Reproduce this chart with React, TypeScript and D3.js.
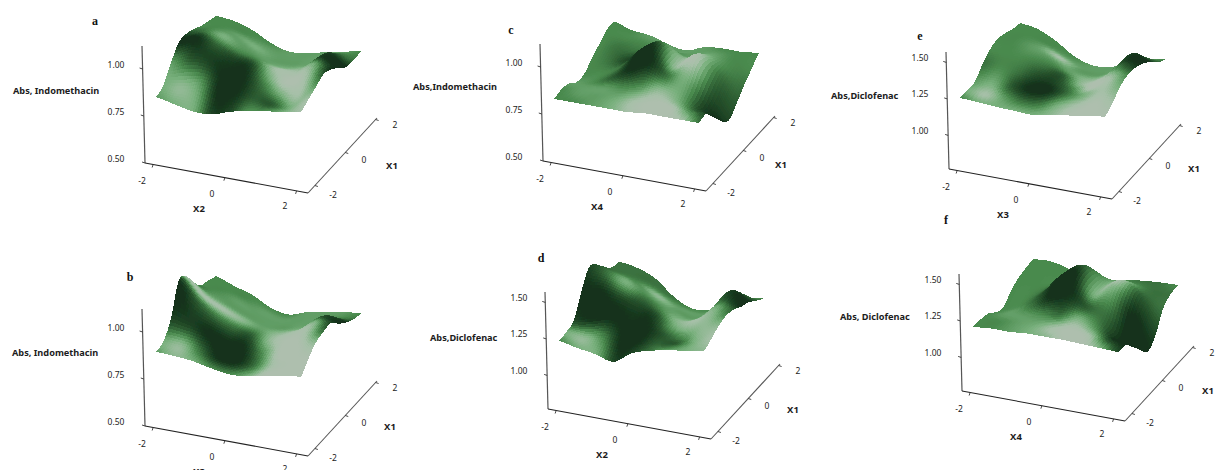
import React from 'react';
import * as d3 from 'd3';

// axis ticks
const factorTicks = [-2, 0, 2];
const indoTicks = [0.5, 0.75, 1.0];
const dicloTicks = [1.0, 1.25, 1.5];

// Surface readings: rows run from the back edge (X1 = 2) to the front edge (X1 = -2),
// columns from the left edge (factor = -2) to the right edge (factor = 2).
const heightsA = [
    [.91, .90, .87, .82, .79, .80, .82, .84, .86],
    [.93, .93, .90, .85, .81, .81, .83, .88, .86],
    [.95, .96, .94, .89, .84, .83, .85, .93, .87],
    [.98, 1.0, .99, .93, .88, .86, .88, .95, .91],
    [1.0, 1.03, 1.02, .96, .93, .90, .90, .96, .95],
    [1.0, 1.04, 1.02, .97, .95, .91, .89, .94, .97],
    [.94, .98, .98, .94, .93, .91, .88, .89, .95],
    [.87, .88, .90, .90, .90, .89, .87, .87, .93],
    [.85, .83, .81, .81, .84, .865, .88, .89, .91],
];
const shadesA = [
    [4, 4, 4, 4, 5, 5, 5, 5, 4],
    [4, 4, 4, 5, 5, 5, 5, 3, 3],
    [4, 4, 5, 6, 5, 5, 5, 1, 0],
    [3, 4, 5, 5, 5, 6, 6, 1, 0],
    [1, 3, 6, 4, 4, 8, 8, 6, 0],
    [0, 0, 2, 1, 1, 6, 9, 8, 2],
    [5, 2, 1, 0, 0, 3, 6, 8, 5],
    [6, 7, 5, 0, 0, 2, 2, 6, 8],
    [5, 6, 6, 1, 1, 4, 4, 6, 8],
];

const heightsB = [
    [.925, .89, .86, .81, .79, .82, .84, .855, .865],
    [.95, .93, .89, .84, .81, .83, .85, .87, .88],
    [.97, .96, .92, .87, .84, .85, .86, .93, .91],
    [1.03, .98, .94, .90, .87, .87, .89, .97, .95],
    [1.11, 1.02, .97, .93, .90, .89, .92, .98, 1.0],
    [1.13, 1.04, .98, .94, .91, .90, .92, .97, 1.0],
    [.98, .96, .94, .91, .89, .88, .90, .94, .99],
    [.905, .90, .89, .87, .86, .86, .88, .91, .95],
    [.894, .89, .88, .86, .845, .85, .87, .885, .90],
];
const shadesB = [
    [4, 4, 4, 4, 4, 5, 5, 5, 4],
    [4, 4, 4, 5, 5, 5, 5, 4, 3],
    [4, 4, 5, 5, 5, 5, 5, 2, 0],
    [3, 5, 5, 5, 5, 5, 6, 2, 0],
    [8, 8, 8, 7, 5, 7, 8, 7, 1],
    [0, 2, 3, 3, 2, 7, 9, 8, 3],
    [1, 1, 0, 0, 0, 4, 9, 9, 7],
    [6, 7, 3, 0, 0, 3, 8, 9, 9],
    [5, 7, 6, 4, 4, 6, 9, 9, 9],
];

const heightsC = [
    [.87, .84, .83, .80, .785, .82, .83, .83, .84],
    [.87, .85, .84, .82, .82, .84, .85, .84, .80],
    [.84, .84, .84, .86, .88, .86, .89, .84, .76],
    [.81, .82, .84, .92, .97, .90, .94, .84, .71],
    [.775, .80, .85, .95, 1.0, .90, .96, .80, .67],
    [.78, .80, .84, .90, .95, .90, .90, .77, .71],
    [.82, .82, .83, .85, .88, .87, .84, .80, .79],
    [.835, .83, .83, .83, .84, .85, .84, .83, .845],
    [.83, .83, .83, .83, .83, .84, .84, .84, .84],
];
const shadesC = [
    [4, 4, 5, 5, 5, 5, 4, 4, 4],
    [4, 4, 4, 4, 5, 5, 5, 4, 4],
    [4, 3, 3, 3, 4, 5, 6, 4, 3],
    [4, 3, 1, 1, 4, 7, 8, 3, 2],
    [4, 4, 3, 0, 1, 7, 9, 2, 1],
    [5, 4, 2, 0, 0, 3, 6, 1, 0],
    [5, 5, 5, 4, 4, 7, 6, 2, 0],
    [4, 5, 5, 6, 8, 9, 9, 5, 1],
    [4, 4, 5, 6, 8, 9, 9, 8, 3],
];

const heightsD = [
    [1.30, 1.28, 1.23, 1.13, 1.07, 1.08, 1.15, 1.20, 1.23],
    [1.32, 1.31, 1.27, 1.19, 1.12, 1.11, 1.20, 1.30, 1.27],
    [1.37, 1.37, 1.32, 1.25, 1.18, 1.14, 1.24, 1.38, 1.32],
    [1.46, 1.44, 1.40, 1.31, 1.24, 1.19, 1.25, 1.38, 1.35],
    [1.50, 1.48, 1.44, 1.36, 1.30, 1.24, 1.28, 1.38, 1.39],
    [1.40, 1.42, 1.40, 1.36, 1.32, 1.26, 1.28, 1.36, 1.41],
    [1.26, 1.29, 1.32, 1.30, 1.30, 1.27, 1.27, 1.33, 1.40],
    [1.24, 1.22, 1.24, 1.24, 1.27, 1.28, 1.29, 1.32, 1.37],
    [1.236, 1.21, 1.19, 1.16, 1.24, 1.28, 1.305, 1.325, 1.345],
];
const shadesD = [
    [3, 3, 3, 3, 4, 4, 4, 4, 4],
    [3, 3, 3, 4, 5, 5, 5, 3, 2],
    [3, 3, 4, 7, 5, 5, 6, 1, 0],
    [2, 3, 4, 5, 5, 6, 6, 2, 0],
    [1, 3, 6, 3, 4, 7, 8, 6, 2],
    [0, 0, 1, 1, 1, 5, 7, 7, 4],
    [1, 0, 0, 0, 0, 2, 4, 7, 7],
    [6, 7, 4, 0, 0, 2, 2, 6, 8],
    [4, 6, 6, 1, 1, 3, 5, 6, 7],
];

const heightsE = [
    [1.29, 1.27, 1.21, 1.13, 1.09, 1.10, 1.16, 1.20, 1.22],
    [1.31, 1.30, 1.25, 1.18, 1.13, 1.13, 1.18, 1.28, 1.26],
    [1.34, 1.34, 1.30, 1.24, 1.18, 1.16, 1.22, 1.36, 1.32],
    [1.36, 1.37, 1.34, 1.29, 1.22, 1.19, 1.25, 1.37, 1.37],
    [1.35, 1.35, 1.34, 1.30, 1.26, 1.22, 1.27, 1.38, 1.40],
    [1.31, 1.31, 1.30, 1.28, 1.27, 1.25, 1.28, 1.37, 1.41],
    [1.25, 1.25, 1.26, 1.26, 1.27, 1.27, 1.29, 1.34, 1.39],
    [1.25, 1.24, 1.24, 1.24, 1.25, 1.26, 1.28, 1.31, 1.34],
    [1.256, 1.25, 1.24, 1.235, 1.23, 1.25, 1.27, 1.29, 1.305],
];
const shadesE = [
    [4, 4, 4, 4, 5, 5, 5, 5, 4],
    [4, 4, 4, 5, 5, 5, 5, 3, 2],
    [4, 4, 5, 8, 5, 5, 5, 1, 0],
    [4, 4, 5, 5, 5, 7, 6, 1, 0],
    [4, 4, 4, 3, 2, 7, 9, 4, 1],
    [3, 4, 3, 1, 1, 4, 9, 8, 4],
    [5, 6, 2, 0, 0, 3, 6, 8, 6],
    [6, 8, 5, 3, 3, 6, 8, 9, 8],
    [4, 6, 6, 6, 6, 7, 9, 9, 9],
];

const heightsF = [
    [1.195, 1.20, 1.17, 1.12, 1.10, 1.16, 1.18, 1.19, 1.195],
    [1.19, 1.19, 1.18, 1.18, 1.20, 1.22, 1.22, 1.20, 1.19],
    [1.18, 1.18, 1.20, 1.27, 1.34, 1.28, 1.30, 1.24, 1.15],
    [1.15, 1.16, 1.22, 1.35, 1.42, 1.30, 1.36, 1.28, 1.03],
    [1.10, 1.14, 1.23, 1.36, 1.42, 1.30, 1.36, 1.20, .98],
    [1.13, 1.16, 1.22, 1.30, 1.34, 1.28, 1.26, 1.10, 1.05],
    [1.18, 1.19, 1.21, 1.24, 1.26, 1.26, 1.22, 1.16, 1.16],
    [1.20, 1.21, 1.22, 1.22, 1.23, 1.24, 1.22, 1.21, 1.20],
    [1.21, 1.22, 1.22, 1.23, 1.23, 1.23, 1.225, 1.22, 1.215],
];
const shadesF = [
    [4, 4, 4, 4, 4, 4, 3, 3, 4],
    [4, 4, 4, 4, 4, 4, 4, 3, 3],
    [4, 4, 4, 3, 3, 5, 6, 3, 3],
    [4, 4, 3, 1, 2, 6, 8, 2, 1],
    [4, 4, 2, 0, 0, 6, 6, 0, 0],
    [4, 5, 3, 0, 0, 2, 3, 0, 0],
    [4, 5, 5, 4, 3, 6, 4, 0, 0],
    [4, 4, 5, 6, 8, 9, 8, 2, 0],
    [4, 4, 5, 6, 7, 9, 9, 6, 1],
];

// per-panel layout
const panels = [
    {letter: 'a', letterAt: [95, 21], title: 'Abs, Indomethacin', titleAt: [13, 90], origin: [145, 163], factor: 'X2', x1At: [392, 165], heights: heightsA, shades: shadesA, zTicks: indoTicks, zBase: 0.5, zPx: 188},
    {letter: 'b', letterAt: [130, 277], title: 'Abs, Indomethacin', titleAt: [12, 352], origin: [145, 426], factor: 'X3', x1At: [390, 426], heights: heightsB, shades: shadesB, zTicks: indoTicks, zBase: 0.5, zPx: 188},
    {letter: 'c', letterAt: [511, 30], title: 'Abs,Indomethacin', titleAt: [413, 86], origin: [543, 161], factor: 'X4', x1At: [781, 164], heights: heightsC, shades: shadesC, zTicks: indoTicks, zBase: 0.5, zPx: 188},
    {letter: 'd', letterAt: [541, 258], title: 'Abs,Diclofenac', titleAt: [430, 337], origin: [548, 409], factor: 'X2', x1At: [793, 409], heights: heightsD, shades: shadesD, zTicks: dicloTicks, zBase: 0.77, zPx: 146},
    {letter: 'e', letterAt: [920, 36], title: 'Abs,Diclofenac', titleAt: [831, 95], origin: [949, 169], factor: 'X3', x1At: [1194, 168], heights: heightsE, shades: shadesE, zTicks: dicloTicks, zBase: 0.77, zPx: 146},
    {letter: 'f', letterAt: [946, 220], title: 'Abs, Diclofenac', titleAt: [840, 316], origin: [962, 391], factor: 'X4', x1At: [1208, 390], heights: heightsF, shades: shadesF, zTicks: dicloTicks, zBase: 0.77, zPx: 146},
];

const MESH = 64;
const LABEL_FONT = '"Noto Sans", sans-serif';

// shade 0 is the darkest slope, shade 9 the washed out gray-green
const shadeColor = d3.scaleLinear<string>()
    .domain([0, 2, 4, 6, 8, 9])
    .range(['#12301a', '#2b5a30', '#4a8a4e', '#78b07c', '#a6c0a8', '#aebfae'])
    .clamp(true);

// surface projection, offsets from the panel origin
const surfX = d3.scaleLinear().domain([-2, 2]).range([11, 156]);
const surfXy = d3.scaleLinear().domain([-2, 2]).range([0, 26]);
const surfV = d3.scaleLinear().domain([-2, 2]).range([0, 60]);
const surfVy = d3.scaleLinear().domain([-2, 2]).range([0, -70]);

// axis positions, as a share of the drawn axis line
const factorAxis = d3.scaleLinear().domain([-2, 2]).range([0.05, 0.93]);
const x1Axis = d3.scaleLinear().domain([-2, 2]).range([0.1, 0.98]);
const FACTOR_END = [163, 30];
const X1_END = [69, -75];
const Z_TOP = [-3, -117];

// smooth curve through the values
function spline(vals: number[], p: number) {
    const n = vals.length - 1;
    const x = Math.min(Math.max(p, 0), 1) * n;
    const i = Math.min(Math.floor(x), n - 1);
    const f = x - i;
    const p0 = vals[Math.max(i - 1, 0)];
    const p1 = vals[i];
    const p2 = vals[i + 1];
    const p3 = vals[Math.min(i + 2, n)];
    return 0.5 * (2 * p1 + (p2 - p0) * f + (2 * p0 - 5 * p1 + 4 * p2 - p3) * f * f + (3 * p1 - p0 - 3 * p2 + p3) * f * f * f);
}

function sample(grid: number[][], s: number, t: number) {
    return spline(grid.map(row => spline(row, s)), 1 - t);
}

function drawPanel(svg: any, panel: any) {
    const [ox, oy] = panel.origin;
    const zScale = d3.scaleLinear().domain([panel.zBase, panel.zBase + 1]).range([0, panel.zPx]);
    const stepU = d3.scaleLinear().domain([0, 1]).range([-2, 2]);

    const project = (s: number, t: number) => {
        const u = stepU(s);
        const v = stepU(t);
        const z = sample(panel.heights, s, t);
        return [ox + surfX(u) + surfV(v), oy + surfXy(u) + surfVy(v) - zScale(z)];
    };

    // painter's order: back rows first, left to right
    const cells: {pts: number[][], shade: number}[] = [];
    const corners: number[][][] = d3.range(MESH + 1).map(j =>
        d3.range(MESH + 1).map(i => project(i / MESH, 1 - j / MESH)));
    for (let j = 0; j < MESH; j++) {
        for (let i = 0; i < MESH; i++) {
            cells.push({
                pts: [corners[j][i], corners[j][i + 1], corners[j + 1][i + 1], corners[j + 1][i]],
                shade: sample(panel.shades, (i + 0.5) / MESH, 1 - (j + 0.5) / MESH),
            });
        }
    }

    const line = d3.line();
    const surface = svg.append('g')
        .attr('filter', 'url(#soften)')
        .attr('shape-rendering', 'crispEdges');
    surface.selectAll('path')
        .data(cells)
        .join('path')
        .attr('d', (d: any) => line(d.pts) + 'Z')
        .attr('fill', (d: any) => shadeColor(d.shade));

    // axis frame
    const g = svg.append('g');
    const frontEnd = [ox + FACTOR_END[0], oy + FACTOR_END[1]];
    const drawLine = (a: number[], b: number[], color: string, w: number) => g.append('line')
        .attr('x1', a[0]).attr('y1', a[1]).attr('x2', b[0]).attr('y2', b[1])
        .attr('stroke', color).attr('stroke-width', w);
    const label = (x: number, y: number, text: string, bold = false) => g.append('text')
        .attr('x', x).attr('y', y)
        .attr('text-anchor', 'middle')
        .attr('dominant-baseline', 'central')
        .attr('font-family', LABEL_FONT)
        .attr('font-size', bold ? 9.5 : 8.5)
        .attr('font-weight', bold ? 700 : 400)
        .attr('fill', '#1c1c1c')
        .text(text);

    drawLine([ox, oy], [ox + Z_TOP[0], oy + Z_TOP[1]], '#555', 1.2);
    drawLine([ox, oy], frontEnd, '#222', 1.1);
    drawLine(frontEnd, [frontEnd[0] + X1_END[0], frontEnd[1] + X1_END[1]], '#555', 1.1);

    panel.zTicks.forEach((z: number) => {
        const dy = zScale(z);
        const x = ox + Z_TOP[0] * dy / -Z_TOP[1];
        drawLine([x - 3, oy - dy - 1], [x, oy - dy], '#333', 0.9);
        label(ox - 29, oy - dy - 5, d3.format('.2f')(z));
    });
    factorTicks.forEach((u, i) => {
        const f = factorAxis(u);
        const x = ox + FACTOR_END[0] * f;
        const y = oy + FACTOR_END[1] * f;
        drawLine([x, y], [x - 1, y + 3], '#333', 0.9);
        label(ox + [-3, 67, 140][i], oy + [17, 30, 42][i], String(u));
    });
    factorTicks.forEach((v, i) => {
        const f = x1Axis(v);
        const x = frontEnd[0] + X1_END[0] * f;
        const y = frontEnd[1] + X1_END[1] * f;
        drawLine([x, y], [x + 3, y + 1], '#333', 0.9);
        label(ox + [188, 219, 250][i], oy + [31, -4, -39][i], String(v));
    });

    label(ox + 54, oy + 45, panel.factor, true);
    label(panel.x1At[0], panel.x1At[1], 'X1', true);

    g.append('text')
        .attr('x', panel.titleAt[0]).attr('y', panel.titleAt[1])
        .attr('dominant-baseline', 'central')
        .attr('font-family', LABEL_FONT)
        .attr('font-size', 9.2)
        .attr('font-weight', 700)
        .attr('fill', '#1c1c1c')
        .text(panel.title);

    g.append('text')
        .attr('x', panel.letterAt[0]).attr('y', panel.letterAt[1])
        .attr('text-anchor', 'middle')
        .attr('dominant-baseline', 'central')
        .attr('font-family', '"Liberation Serif", serif')
        .attr('font-size', 12)
        .attr('font-weight', 700)
        .attr('fill', '#111')
        .text(panel.letter);
}

const App = () => {
    const svgRef = React.useRef<SVGSVGElement>(null);

    React.useEffect(() => {
        const svg = d3.select(svgRef.current);
        svg.selectAll('*').remove();
        svg.append('defs').append('filter')
            .attr('id', 'soften')
            .append('feGaussianBlur')
            .attr('stdDeviation', 0.5);
        panels.forEach(p => drawPanel(svg, p));
    }, []);

    return (
        <svg
            ref={svgRef}
            width={1216}
            height={470}
            style={{position: 'absolute', left: 0, top: 0, background: '#fff'}}
        />
    );
};

export default App;
